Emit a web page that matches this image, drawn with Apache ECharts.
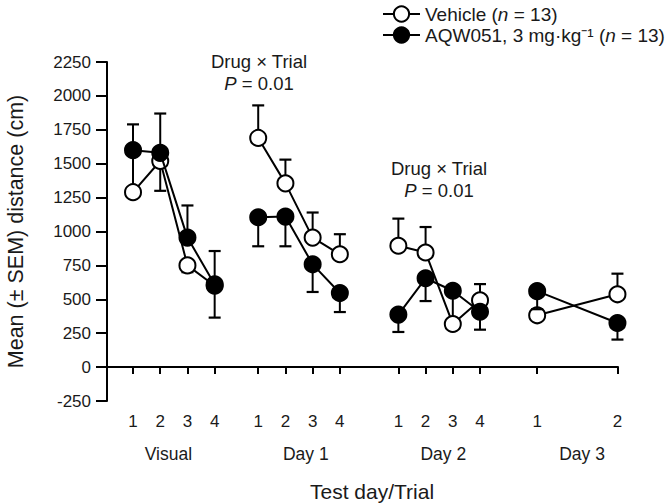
<!DOCTYPE html>
<html>
<head>
<meta charset="utf-8">
<script src="https://cdn.jsdelivr.net/npm/echarts@6/dist/echarts.min.js"></script>
<style>
html,body{margin:0;padding:0;background:#fff;}
#chart{width:670px;height:504px;}
</style>
</head>
<body>
<div id="chart"></div>
<script>
// ---- data ----
const trialLabels = ['1','2','3','4','1','2','3','4','1','2','3','4','1','2'];
const trialPos    = [1,2,3,4, 5.6,6.6,7.6,8.6, 10.75,11.75,12.75,13.75, 15.85,18.8];
const trialGroup  = [0,0,0,0, 1,1,1,1, 2,2,2,2, 3,3];
const groupNames  = ['Visual','Day 1','Day 2','Day 3'];
const groupCenters = [2.3, 7.35, 12.4, 17.5];

const vehicleName = 'Vehicle (n = 13)';
const aqwName = 'AQW051, 3 mg·kg⁻¹ (n = 13)';

const vehicleMean   = [1290,1520,750,600, 1690,1355,955,832, 895,845,318,493, 382,537];
const vehicleErrEnd = [1600,1300,700,365, 1930,1530,1140,980, 1095,1033,540,612, null,689];
const aqwMean       = [1600,1580,955,610, 1105,1110,758,546, 387,655,563,408, 560,325];
const aqwErrEnd     = [1790,1870,1192,856, 891,891,554,406, 259,487,null,276, 427,203];

// ---- build ----
function lineData(mean){
  const out = [];
  for (let i = 0; i < mean.length; i++) {
    if (i > 0 && trialGroup[i] !== trialGroup[i-1]) out.push([(trialPos[i]+trialPos[i-1])/2, '-']);
    out.push([trialPos[i], mean[i]]);
  }
  return out;
}
function errData(mean, end){
  const out = [];
  for (let i = 0; i < mean.length; i++) if (end[i] != null) out.push([trialPos[i], mean[i], end[i]]);
  return out;
}
function errRender(params, api){
  const p0 = api.coord([api.value(0), api.value(1)]);
  const p1 = api.coord([api.value(0), api.value(2)]);
  const cw = 6;
  return {
    type: 'group',
    children: [
      {type:'line', shape:{x1:p0[0],y1:p0[1],x2:p1[0],y2:p1[1]}, style:{stroke:'#000',lineWidth:2}},
      {type:'line', shape:{x1:p1[0]-cw,y1:p1[1],x2:p1[0]+cw,y2:p1[1]}, style:{stroke:'#000',lineWidth:2.2}}
    ]
  };
}
function nearestLabel(v, pos, labels){
  let best = 0, d = Infinity;
  for (let i = 0; i < pos.length; i++) { const dd = Math.abs(pos[i]-v); if (dd < d) { d = dd; best = i; } }
  return labels[best];
}

const FONT = 'Liberation Sans, Arial, sans-serif';
const TXT = '#1a1a1a';
const chart = echarts.init(document.getElementById('chart'), null, {renderer:'svg'});
const xMin = 0.044, xMax = 18.82;
const annRich = {
  n:{fontSize:18.5,fontFamily:FONT,lineHeight:22,fill:TXT,color:TXT},
  i:{fontSize:18.5,fontFamily:FONT,fontStyle:'italic',lineHeight:22,fill:TXT,color:TXT}
};

chart.setOption({
  animation: false,
  backgroundColor: '#fff',
  textStyle: {fontFamily: FONT},
  grid: {left: 107, right: 52, top: 62, bottom: 103, containLabel: false, outerBoundsMode: 'none'},
  legend: {
    left: 382, top: 4.5, padding: 0, orient: 'vertical', itemWidth: 37, itemHeight: 19, itemGap: 2,
    data: [vehicleName, aqwName],
    textStyle: {fontSize: 19, color: TXT, fontFamily: FONT,
      rich: {a:{fontSize:19,color:TXT,fontFamily:FONT}, i:{fontSize:19,color:TXT,fontStyle:'italic',fontFamily:FONT}}},
    formatter: function(name){
      const k = name.indexOf('(n');
      return '{a|' + name.slice(0,k+1) + '}{i|n}{a|' + name.slice(k+2) + '}';
    }
  },
  xAxis: [{
    type: 'value', min: xMin, max: xMax,
    axisLine: {show: true, lineStyle: {color:'#000', width: 2}},
    axisTick: {show: true, length: 7, lineStyle: {color:'#000', width: 2}, customValues: trialPos},
    axisLabel: {show: true, customValues: trialPos, margin: 12, fontSize: 17, color: TXT, fontFamily: FONT,
      formatter: v => nearestLabel(v, trialPos, trialLabels)},
    splitLine: {show: false}
  },{
    type: 'value', min: xMin, max: xMax, position: 'bottom',
    axisLine: {show: false}, axisTick: {show: false}, splitLine: {show: false},
    axisLabel: {show: true, customValues: groupCenters, margin: 44, fontSize: 17.5, color: TXT, fontFamily: FONT,
      formatter: v => nearestLabel(v, groupCenters, groupNames)},
    name: 'Test day/Trial', nameLocation: 'middle', nameGap: 80,
    nameTextStyle: {fontSize: 21, color: TXT, fontFamily: FONT, padding: [0,0,0,19]}
  }],
  yAxis: {
    type: 'value', min: -250, max: 2250, interval: 250,
    axisLine: {show: true, lineStyle: {color:'#000', width: 2}},
    axisTick: {show: true, length: 11, lineStyle: {color:'#000', width: 2}},
    axisLabel: {margin: 16, fontSize: 17, color: TXT, fontFamily: FONT, formatter: v => String(v)},
    splitLine: {show: false},
    name: 'Mean (± SEM) distance (cm)', nameLocation: 'middle', nameGap: 80, nameRotate: 90,
    nameTextStyle: {fontSize: 21.5, color: TXT, fontFamily: FONT}
  },
  graphic: [
    {type:'text', x: 259, y: 50, style:{text:'{n|Drug × Trial}\n{n|}{i|P}{n| = 0.01}', align:'center', fill:TXT, rich: annRich}},
    {type:'text', x: 439, y: 157, style:{text:'{n|Drug × Trial}\n{n|}{i|P}{n| = 0.01}', align:'center', fill:TXT, rich: annRich}}
  ],
  series: [
    {type:'custom', name: 'Vehicle SEM', renderItem: errRender, data: errData(vehicleMean, vehicleErrEnd), z: 1, silent: true,
      encode: {x: 0, y: [1,2]}},
    {type:'line', name: vehicleName, data: lineData(vehicleMean), z: 2, connectNulls: false,
      symbol: 'circle', symbolSize: 16, showAllSymbol: true,
      lineStyle: {color:'#000', width: 2}, itemStyle: {color:'#fff', borderColor:'#000', borderWidth: 2}},
    {type:'custom', name: 'AQW051 SEM', renderItem: errRender, data: errData(aqwMean, aqwErrEnd), z: 3, silent: true,
      encode: {x: 0, y: [1,2]}},
    {type:'line', name: aqwName, data: lineData(aqwMean), z: 4, connectNulls: false,
      symbol: 'circle', symbolSize: 16, showAllSymbol: true,
      lineStyle: {color:'#000', width: 2}, itemStyle: {color:'#000', borderColor:'#000', borderWidth: 2}}
  ]
});
</script>
</body>
</html>
